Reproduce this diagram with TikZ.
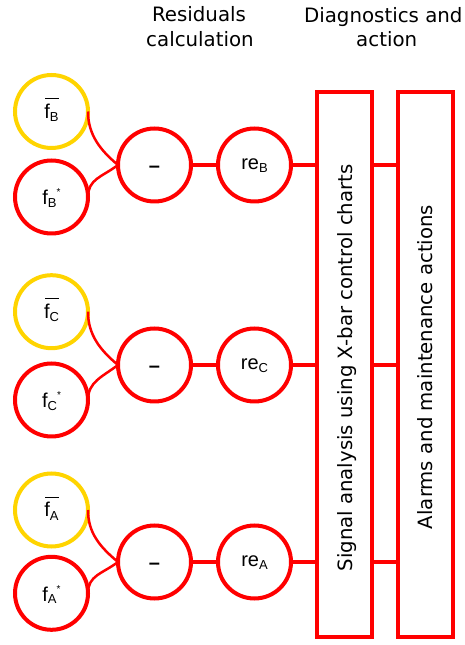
\documentclass[tikz,border=0pt]{standalone}
\usepackage{fontspec}
\newfontfamily\hfont{DejaVu Sans}
\newfontfamily\cfont{Liberation Sans}
\definecolor{myyellow}{RGB}{255,212,0}
\newcommand\mysub[1]{\raisebox{-2.2pt}{\fontsize{13}{13}\selectfont #1}}
\newcommand\mysubb[1]{\raisebox{-3.4pt}{\fontsize{13}{13}\selectfont #1}}
\newcommand\mystar{\raisebox{9pt}{\fontsize{10}{10}\selectfont *}}
\newcommand\mybar{\rlap{\hspace{1pt}\rule[19pt]{14pt}{1.2pt}}}
\begin{document}
\begin{tikzpicture}[x=1pt,y=1pt,
  circ/.style={circle, draw=red, line width=4pt, minimum size=73pt, inner sep=0pt, outer sep=0pt,
    font=\cfont\fontsize{20}{20}\selectfont, text height=10pt, text depth=0pt},
  barcirc/.style={circ, draw=myyellow, text height=13.6pt},
  starcirc/.style={circ, text height=16pt},
  minuscirc/.style={circ, text height=16pt},
  bigbox/.style={rectangle, draw=red, line width=4pt, minimum height=545pt, inner sep=0pt, outer sep=0pt},
  boxtext/.style={rotate=90, font=\hfont\fontsize{19.7}{19.7}\selectfont, inner sep=0pt},
  head/.style={anchor=base, font=\hfont\fontsize{19.8}{19.8}\selectfont, inner sep=0pt},
  conn/.style={draw=red, line width=4.5pt},
  curve/.style={draw=red, line width=2.5pt}
]
\useasboundingbox (0,0) rectangle (465,645);

% headers
\node[head] (h1) at (199,623) {Residuals};
\node[head] (h2) at (200,598.3) {calculation};
\node[head] (h3) at (383.3,622.3) {Diagnostics and};
\node[head] (h4) at (386.7,598.3) {action};

% big boxes
\node[bigbox, minimum width=55pt] (sig) at (344.5,280) {};
\node[boxtext] (sigtext) at ([xshift=2.5pt,yshift=-3pt]sig.center) {Signal analysis using X-bar control charts};
\node[bigbox, minimum width=55.5pt] (alarm) at (425.25,280) {};
\node[boxtext] (alarmtext) at ([yshift=-2pt]alarm.center) {Alarms and maintenance actions};

% row B
\node[barcirc] (fbarB) at (51.5,533.5) {\mybar f\mysubb{B}};
\node[starcirc] (fstarB) at (51.5,448) {f\mysub{B}\mystar};
\node[minuscirc] (minusB) at (154.5,480) {\bfseries –};
\node[circ] (reB) at (254.5,480) {re\mysub{B}};

% row C
\node[barcirc] (fbarC) at (51.5,333.3) {\mybar f\mysubb{C}};
\node[starcirc] (fstarC) at (51.5,245) {f\mysub{C}\mystar};
\node[minuscirc] (minusC) at (154.5,280) {\bfseries –};
\node[circ] (reC) at (254.5,280) {re\mysub{C}};

% row A
\node[barcirc] (fbarA) at (51.5,135) {\mybar f\mysubb{A}};
\node[starcirc] (fstarA) at (51.5,51.7) {f\mysub{A}\mystar};
\node[minuscirc] (minusA) at (154.5,83) {\bfseries –};
\node[circ] (reA) at (254.5,83) {re\mysub{A}};

% connectors
\foreach \r in {A,B,C}{
  \draw[curve] (fbar\r.east) .. controls +(0,-23) and +(-18,15) .. (minus\r.west);
  \draw[curve] (fstar\r.east) .. controls +(0,18) and +(-16,-12) .. (minus\r.west);
  \draw[conn] (minus\r.east) -- (re\r.west);
  \draw[conn] (re\r.east) -- (re\r.east -| sig.west);
  \draw[conn] (re\r.east -| sig.east) -- (re\r.east -| alarm.west);
}
\end{tikzpicture}
\end{document}
